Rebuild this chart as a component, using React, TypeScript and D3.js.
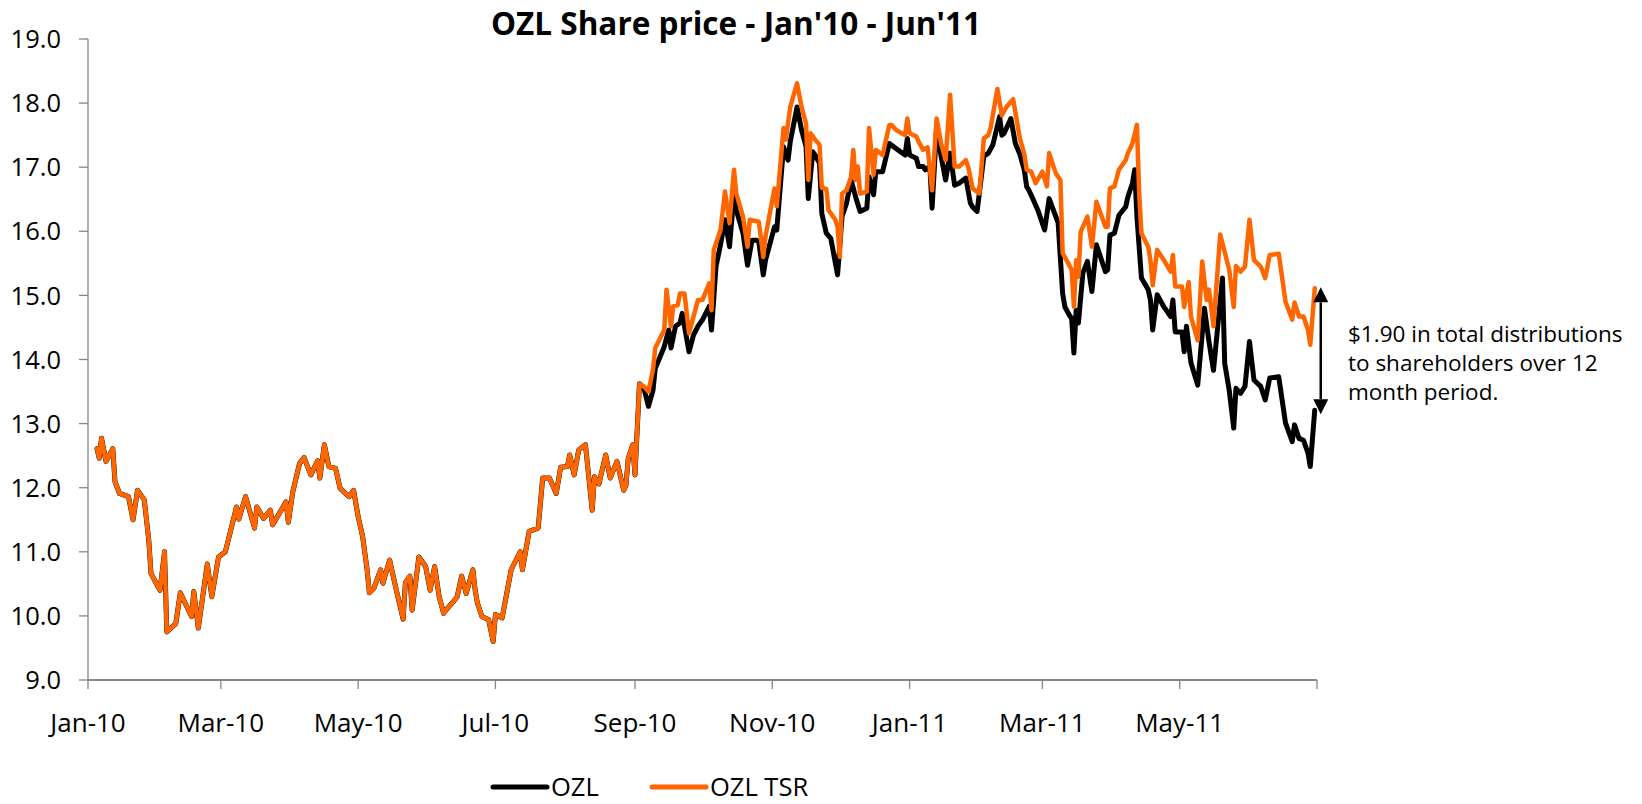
import React from "react";
import * as d3 from "d3";

const TITLE = "OZL Share price - Jan'10 - Jun'11";
const START_DATE = new Date(2010, 0, 1);
const END_DATE = new Date(2011, 6, 1);

// Days since 1 Jan 2010 where both series coincide (before first distribution)
const commonDays = [4, 5, 6, 8, 11, 12, 14, 18, 20, 22, 25, 27, 28, 32, 34, 35, 39, 41, 46, 47, 49, 53, 55, 58, 61, 66, 67, 70, 74, 75, 78, 81, 82, 85, 88, 89, 91, 94, 96, 99, 102, 103, 105, 107, 110, 112, 116, 118, 120, 122, 124, 125, 127, 130, 131, 134, 137, 140, 141, 143, 144, 147, 150, 152, 154, 156, 158, 159, 162, 164, 166, 168, 171, 172, 173, 175, 178, 180, 181, 184, 188, 192, 193, 196, 200, 202, 205, 208, 210, 213, 214, 216, 218, 221, 224, 225, 227, 230, 232, 235, 238, 239, 240, 242, 243, 245];
const commonValues = [12.61, 12.46, 12.77, 12.41, 12.61, 12.09, 11.91, 11.86, 11.5, 11.96, 11.81, 11.18, 10.66, 10.4, 11.0, 9.75, 9.88, 10.36, 9.99, 10.38, 9.81, 10.81, 10.3, 10.92, 11.0, 11.7, 11.51, 11.86, 11.37, 11.7, 11.52, 11.65, 11.42, 11.6, 11.78, 11.46, 11.94, 12.38, 12.47, 12.2, 12.42, 12.15, 12.67, 12.33, 12.3, 11.99, 11.86, 11.96, 11.55, 11.24, 10.72, 10.36, 10.43, 10.72, 10.51, 10.87, 10.4, 9.95, 10.52, 10.62, 10.09, 10.92, 10.77, 10.4, 10.77, 10.3, 10.04, 10.09, 10.21, 10.3, 10.62, 10.35, 10.72, 10.4, 10.2, 9.99, 9.94, 9.6, 10.02, 9.97, 10.72, 11.0, 10.72, 11.32, 11.37, 12.15, 12.15, 11.91, 12.32, 12.33, 12.51, 12.2, 12.59, 12.67, 11.65, 12.17, 12.06, 12.51, 12.15, 12.41, 11.96, 12.04, 12.46, 12.67, 12.2, 13.62];

const ozlDays = [247, 249, 251, 252, 256, 258, 259, 261, 263, 264, 267, 269, 271, 273, 276, 277, 279, 281, 283, 285, 287, 288, 291, 293, 295, 297, 298, 300, 301, 305, 306, 309, 311, 312, 315, 317, 319, 320, 322, 323, 325, 326, 328, 330, 333, 335, 337, 339, 341, 343, 346, 347, 349, 350, 353, 356, 359, 363, 364, 365, 368, 369, 371, 372, 374, 375, 377, 379, 381, 383, 385, 387, 390, 392, 393, 395, 398, 400, 402, 405, 406, 407, 410, 412, 414, 416, 417, 418, 420, 422, 425, 427, 431, 433, 434, 436, 437, 438, 439, 440, 442, 444, 446, 448, 452, 453, 454, 456, 458, 461, 462, 464, 465, 466, 468, 471, 472, 473, 475, 478, 481, 482, 483, 486, 487, 488, 490, 493, 496, 498, 500, 504, 505, 507, 509, 510, 512, 514, 516, 518, 521, 523, 525, 529, 532, 535, 536, 538, 540, 542, 543, 545];
const ozlValues = [13.55, 13.27, 13.52, 13.86, 14.2, 14.46, 14.18, 14.52, 14.57, 14.72, 14.12, 14.38, 14.52, 14.62, 14.83, 14.46, 15.45, 15.79, 16.18, 15.76, 16.59, 16.33, 15.97, 15.47, 15.86, 15.86, 15.84, 15.32, 15.55, 16.07, 16.02, 17.32, 17.11, 17.4, 17.94, 17.58, 17.32, 16.51, 17.24, 17.19, 17.06, 16.28, 15.97, 15.89, 15.32, 16.23, 16.44, 16.8, 16.54, 16.31, 16.36, 16.85, 16.57, 16.93, 16.93, 17.37, 17.29, 17.19, 17.45, 17.19, 17.14, 17.01, 17.01, 16.96, 17.01, 16.36, 17.61, 17.17, 16.8, 17.22, 16.72, 16.75, 16.83, 16.44, 16.38, 16.31, 17.17, 17.22, 17.35, 17.79, 17.5, 17.53, 17.76, 17.37, 17.2, 16.95, 16.7, 16.64, 16.49, 16.33, 16.02, 16.51, 16.13, 15.03, 14.82, 14.69, 14.64, 14.1, 14.77, 14.57, 15.35, 15.53, 15.06, 15.79, 15.37, 15.4, 15.94, 15.97, 16.25, 16.38, 16.54, 16.75, 16.96, 16.23, 15.27, 15.09, 14.93, 14.46, 15.01, 14.82, 14.67, 14.93, 14.43, 14.43, 14.12, 14.52, 13.95, 13.6, 14.8, 14.28, 13.83, 15.27, 13.94, 13.52, 12.93, 13.55, 13.47, 13.58, 14.28, 13.68, 13.58, 13.37, 13.71, 13.73, 13.01, 12.72, 12.98, 12.77, 12.74, 12.54, 12.33, 13.21];

const tsrDays = [247, 249, 251, 252, 256, 257, 259, 260, 262, 263, 265, 267, 269, 271, 273, 276, 277, 278, 281, 283, 285, 287, 288, 291, 293, 294, 298, 300, 301, 305, 306, 309, 310, 312, 315, 317, 319, 320, 321, 323, 325, 326, 328, 329, 332, 333, 334, 335, 337, 339, 340, 341, 342, 343, 346, 347, 349, 350, 353, 356, 357, 359, 363, 364, 365, 368, 369, 371, 373, 375, 377, 379, 381, 383, 385, 387, 390, 391, 393, 396, 398, 400, 401, 404, 406, 408, 411, 414, 416, 417, 419, 421, 424, 426, 427, 430, 432, 433, 435, 437, 438, 439, 440, 441, 444, 446, 448, 452, 453, 454, 456, 458, 461, 462, 464, 466, 467, 468, 471, 472, 473, 475, 478, 481, 482, 483, 486, 487, 489, 490, 493, 495, 497, 498, 500, 503, 507, 509, 510, 512, 514, 516, 518, 521, 523, 525, 529, 532, 535, 536, 538, 540, 542, 543, 545];
const tsrValues = [13.58, 13.5, 13.84, 14.18, 14.46, 15.09, 14.52, 14.83, 14.85, 15.03, 15.03, 14.41, 14.67, 14.93, 14.93, 15.19, 14.77, 15.71, 16.02, 16.62, 16.13, 16.96, 16.59, 16.23, 15.76, 16.18, 16.15, 15.6, 15.92, 16.67, 16.39, 17.61, 17.43, 17.94, 18.31, 17.94, 17.68, 16.8, 17.53, 17.43, 17.35, 16.68, 16.66, 16.33, 16.18, 16.07, 15.6, 16.59, 16.64, 16.85, 17.27, 16.8, 17.01, 16.59, 16.62, 17.61, 16.88, 17.27, 17.19, 17.66, 17.66, 17.58, 17.5, 17.76, 17.53, 17.48, 17.4, 17.27, 17.31, 16.64, 17.76, 17.37, 17.11, 18.13, 17.01, 17.01, 17.11, 17.01, 16.67, 16.59, 17.45, 17.5, 17.61, 18.22, 17.81, 17.94, 18.06, 17.45, 17.2, 16.96, 16.93, 16.75, 16.93, 16.7, 17.22, 16.9, 16.8, 15.66, 15.53, 15.4, 14.82, 15.55, 15.29, 15.99, 16.23, 15.76, 16.46, 16.07, 16.07, 16.67, 16.7, 16.96, 17.11, 17.22, 17.37, 17.66, 16.59, 15.97, 15.76, 15.55, 15.16, 15.71, 15.55, 15.37, 15.63, 15.14, 15.14, 14.82, 15.21, 14.67, 14.3, 15.53, 14.93, 15.09, 14.52, 15.95, 15.4, 14.82, 15.46, 15.37, 15.45, 16.18, 15.55, 15.45, 15.27, 15.63, 15.65, 14.9, 14.62, 14.89, 14.67, 14.67, 14.46, 14.23, 15.11];

const yTicks = [9, 10, 11, 12, 13, 14, 15, 16, 17, 18, 19];
const xTickDates = ["2010-01-01", "2010-03-01", "2010-05-01", "2010-07-01", "2010-09-01", "2010-11-01", "2011-01-01", "2011-03-01", "2011-05-01", "2011-07-01"];
const seriesNames = ["OZL", "OZL TSR"];
const seriesColors = ["#000000", "#FF6600"];
const annotationLines = ["$1.90 in total distributions", "to shareholders over 12", "month period."];

const FONT = "'Open Sans', 'Noto Sans', sans-serif";

export default function App() {
  const W = 1642, H = 804;
  const left = 88, right = 1317, top = 39, bottom = 680;
  const x = d3.scaleTime().domain([START_DATE, END_DATE]).range([left, right]);
  const y = d3.scaleLinear().domain([9, 19]).range([bottom, top]);
  const toDate = (d: number) => d3.timeDay.offset(START_DATE, d);
  const ozlAllValues = [...commonValues, ...ozlValues];
  const tsrAllValues = [...commonValues, ...tsrValues];
  const ozl = [...commonDays, ...ozlDays].map((d, i) => ({ date: toDate(d), v: ozlAllValues[i] }));
  const tsr = [...commonDays, ...tsrDays].map((d, i) => ({ date: toDate(d), v: tsrAllValues[i] }));
  const line = d3.line<{ date: Date; v: number }>().x((d) => x(d.date)).y((d) => y(d.v));
  const parse = d3.timeParse("%Y-%m-%d");
  const fmt = d3.timeFormat("%b-%y");
  const ticks = xTickDates.map((s) => parse(s) as Date);

  const lastO = ozl[ozl.length - 1];
  const lastT = tsr[tsr.length - 1];
  const ax = x(lastO.date) + 6;
  const ay1 = y(lastT.v) - 1;
  const ay2 = y(lastO.v) + 4;
  const ah = 15;

  return (
    <svg width={W} height={H} style={{ position: "absolute", left: 0, top: 0, background: "#fff" }} fontFamily={FONT}>
      <text x={736} y={35} textAnchor="middle" fontSize={31.5} fontWeight="bold" fill="#000">{TITLE}</text>
      {/* y axis */}
      <line x1={left} x2={left} y1={top} y2={bottom} stroke="#868686" strokeWidth={1.3} />
      {yTicks.map((t) => (
        <g key={t}>
          <line x1={left - 9} x2={left} y1={y(t)} y2={y(t)} stroke="#868686" strokeWidth={1.3} />
          <text x={61} y={y(t)} dy="0.36em" textAnchor="end" fontSize={25.5} fill="#000">{t.toFixed(1)}</text>
        </g>
      ))}
      {/* x axis */}
      <line x1={left} x2={right} y1={bottom} y2={bottom} stroke="#868686" strokeWidth={2} />
      {ticks.map((t, i) => (
        <g key={i}>
          <line x1={x(t)} x2={x(t)} y1={bottom} y2={bottom + 9} stroke="#868686" strokeWidth={1.3} />
          {i < ticks.length - 1 && (
            <text x={x(t)} y={bottom + 52} textAnchor="middle" fontSize={26} fill="#000">{fmt(t)}</text>
          )}
        </g>
      ))}
      <path d={line(ozl) || ""} fill="none" stroke={seriesColors[0]} strokeWidth={5} strokeLinejoin="round" strokeLinecap="round" />
      <path d={line(tsr) || ""} fill="none" stroke={seriesColors[1]} strokeWidth={4.5} strokeLinejoin="round" strokeLinecap="round" />
      {/* distribution arrow */}
      <line x1={ax} x2={ax} y1={ay1 + ah} y2={ay2 - ah} stroke="#000" strokeWidth={2.5} />
      <path d={`M${ax},${ay1} L${ax - 7.5},${ay1 + ah} L${ax + 7.5},${ay1 + ah} Z`} fill="#000" />
      <path d={`M${ax},${ay2} L${ax - 7.5},${ay2 - ah} L${ax + 7.5},${ay2 - ah} Z`} fill="#000" />
      {annotationLines.map((s, i) => (
        <text key={i} x={1348} y={342 + i * 29} fontSize={22.5} fill="#000">{s}</text>
      ))}
      {/* legend */}
      {seriesNames.map((n, i) => {
        const lx = [493, 652][i];
        return (
          <g key={n}>
            <line x1={lx} x2={lx + 54} y1={787} y2={787} stroke={seriesColors[i]} strokeWidth={5} strokeLinecap="round" />
            <text x={lx + 58} y={787} dy="0.36em" fontSize={25.5} fill="#000">{n}</text>
          </g>
        );
      })}
    </svg>
  );
}
